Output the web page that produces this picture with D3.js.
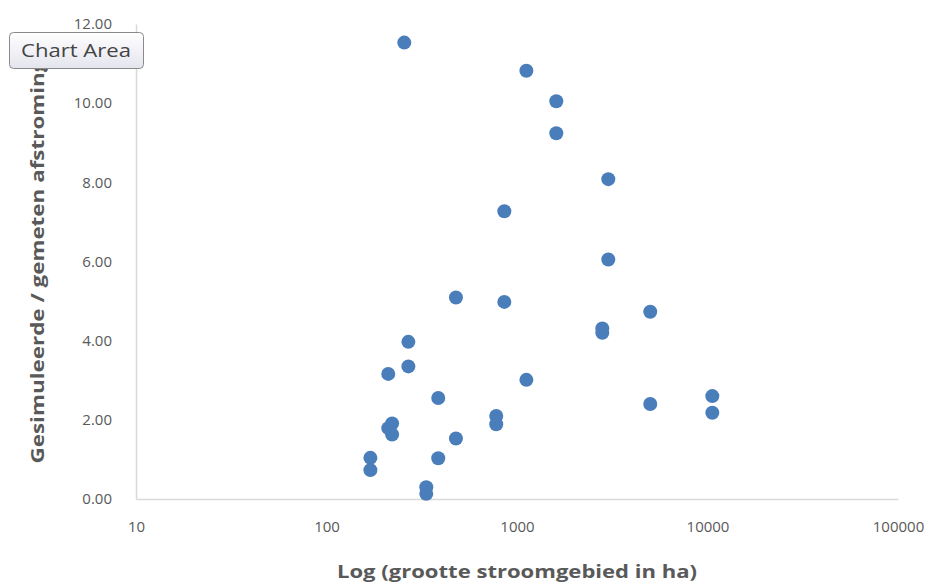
<!DOCTYPE html>
<html>
<head>
<meta charset="utf-8">
<script src="https://cdn.jsdelivr.net/npm/d3@7/dist/d3.min.js"></script>
<style>
  html, body { margin: 0; padding: 0; background: #ffffff; }
  svg { display: block; }
</style>
</head>
<body>
<svg id="chart" width="936" height="584"></svg>
<script>
// Catchment size (ha) and simulated / measured runoff ratio per station
const areaHa = [256, 1120, 1608, 1608, 3015, 858, 3015, 478, 858, 5006,
                2804, 2804, 269, 269, 211, 1120, 386, 10600, 5006, 10600,
                778, 778, 221, 211, 221, 478, 170, 386, 170, 334, 334];
const ratio  = [11.53, 10.82, 10.05, 9.24, 8.08, 7.27, 6.05, 5.09, 4.98, 4.73,
                4.31, 4.20, 3.97, 3.35, 3.16, 3.01, 2.55, 2.60, 2.40, 2.18,
                2.10, 1.89, 1.91, 1.79, 1.63, 1.53, 1.04, 1.03, 0.73, 0.30, 0.13];

const xTicks = [10, 100, 1000, 10000, 100000];
const yTicks = [0, 2, 4, 6, 8, 10, 12];

const xTitle = "Log (grootte stroomgebied in ha)";
const yTitle = "Gesimuleerde / gemeten afstroming";
const tipLabel = "Chart Area";

const svg = d3.select("#chart");
const plot = { left: 136, right: 898, top: 24, bottom: 499 };
const font = "'Open Sans', 'Liberation Sans', sans-serif";
const textColor = "#595959";
const axisColor = "#d9d9d9";

const x = d3.scaleLog().domain([10, 100000]).range([plot.left, plot.right]);
const y = d3.scaleLinear().domain([0, 12]).range([plot.bottom, plot.top]);

// x axis
const gx = svg.append("g")
  .attr("transform", `translate(0,${plot.bottom})`)
  .call(d3.axisBottom(x).tickValues(xTicks).tickFormat(d3.format("d")).tickSize(0).tickPadding(22));
gx.select(".domain").attr("stroke", axisColor).attr("stroke-width", 1.5);
gx.selectAll("text").attr("fill", textColor).style("font-family", font).style("font-size", "15px");

// y axis
const gy = svg.append("g")
  .attr("transform", `translate(${plot.left},0)`)
  .call(d3.axisLeft(y).tickValues(yTicks).tickFormat(d3.format(".2f")).tickSize(0).tickPadding(24));
gy.select(".domain").attr("stroke", axisColor).attr("stroke-width", 1.5);
gy.selectAll("text").attr("fill", textColor).style("font-family", font).style("font-size", "15px");

// axis titles
svg.append("text")
  .attr("x", (plot.left + plot.right) / 2)
  .attr("y", 578)
  .attr("text-anchor", "middle")
  .attr("textLength", 360)
  .attr("lengthAdjust", "spacingAndGlyphs")
  .attr("fill", textColor)
  .style("font-family", font).style("font-size", "17px").style("font-weight", "bold")
  .text(xTitle);

svg.append("text")
  .attr("transform", `translate(44,${(plot.top + plot.bottom) / 2 + 0}) rotate(-90)`)
  .attr("text-anchor", "middle")
  .attr("textLength", 404)
  .attr("lengthAdjust", "spacingAndGlyphs")
  .attr("fill", textColor)
  .style("font-family", font).style("font-size", "17px").style("font-weight", "bold")
  .text(yTitle);

// markers
svg.append("g")
  .selectAll("circle")
  .data(areaHa.map((a, i) => ({ a, r: ratio[i] })))
  .join("circle")
  .attr("cx", d => x(d.a))
  .attr("cy", d => y(d.r))
  .attr("r", 7)
  .attr("fill", "#4a7ebb");

// hover tag
const defs = svg.append("defs");
const grad = defs.append("linearGradient").attr("id", "tipGrad")
  .attr("x1", 0).attr("y1", 0).attr("x2", 0).attr("y2", 1);
grad.append("stop").attr("offset", "0%").attr("stop-color", "#ffffff");
grad.append("stop").attr("offset", "100%").attr("stop-color", "#e4e4ee");

const tip = svg.append("g");
tip.append("rect")
  .attr("x", 9.5).attr("y", 32.5).attr("width", 134).attr("height", 36)
  .attr("rx", 4).attr("ry", 4)
  .attr("fill", "url(#tipGrad)")
  .attr("stroke", "#8a8a8a").attr("stroke-width", 1);
tip.append("text")
  .attr("x", 76).attr("y", 57)
  .attr("text-anchor", "middle")
  .attr("textLength", 110)
  .attr("lengthAdjust", "spacingAndGlyphs")
  .attr("fill", "#444444")
  .style("font-family", font).style("font-size", "18px")
  .text(tipLabel);
</script>
</body>
</html>
